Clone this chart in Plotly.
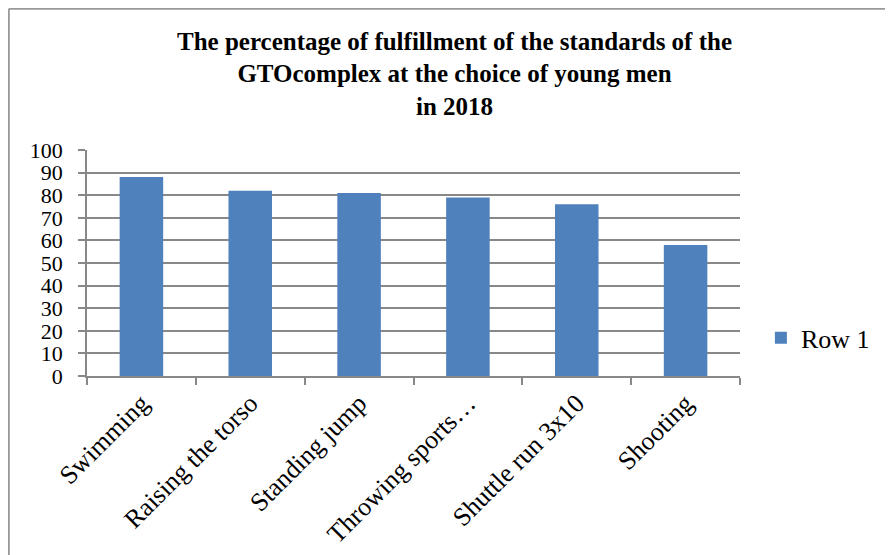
import plotly.graph_objects as go

categories = ["Swimming", "Raising the torso", "Standing jump", "Throwing sports…", "Shuttle run 3x10", "Shooting"]
values = [88, 82, 81, 79, 76, 58]
series_name = "Row 1"
title_text = "<b>The percentage of fulfillment of the standards of the<br>GTOcomplex at the choice of young men<br>in 2018</b>"

font_family = "Liberation Serif, Times New Roman, serif"

# page has an 8px body margin; plot area target in screenshot: x 87-740, y 150-376
OFF = 8
L, R, T, B = 87 - OFF, 740 - OFF, 150 - OFF, 376 - OFF
W, H = 893, 555

fig = go.Figure()
fig.add_trace(go.Bar(x=categories, y=values, name=series_name,
                     marker=dict(color="#4F81BD", line=dict(width=0)), showlegend=True))

fig.update_layout(
    width=W, height=H,
    paper_bgcolor="white", plot_bgcolor="white",
    margin=dict(l=L, r=W - R, t=T, b=H - B, autoexpand=False),
    font=dict(family=font_family, size=25, color="black"),
    title=dict(text=title_text, x=0.5, xanchor="center", xref="container", y=0.925, yanchor="top",
               font=dict(family=font_family, size=25, color="black")),
    bargap=0.6,
    legend=dict(x=1.032, y=0.169, xanchor="left", yanchor="middle", font=dict(size=26),
                itemwidth=30, bgcolor="rgba(0,0,0,0)"),
    xaxis=dict(showline=True, linecolor="#888888", linewidth=1.5, ticks="outside", tickson="boundaries",
               ticklen=7, tickcolor="#888888", tickwidth=1.5, tickangle=-45, showgrid=False,
               tickfont=dict(size=26), automargin=False),
    yaxis=dict(range=[0, 100], dtick=10, showline=True, linecolor="#888888", linewidth=1.5,
               showgrid=True, gridcolor="#888888", gridwidth=1.5, ticks="outside", ticklen=7,
               tickcolor="#888888", tickwidth=1.5, tickfont=dict(size=22), zeroline=False,
               automargin=False, ticklabelstandoff=11),
)

# chart border (left and top edges visible)
bx = (0.8 - L) / (R - L)
by = (B - 0.8) / (B - T)
fig.add_shape(type="line", xref="paper", yref="paper", x0=bx, x1=bx, y0=-2, y1=by,
              line=dict(color="#999999", width=2))
fig.add_shape(type="line", xref="paper", yref="paper", x0=bx, x1=2, y0=by, y1=by,
              line=dict(color="#999999", width=2))

fig.write_html("out.html")
